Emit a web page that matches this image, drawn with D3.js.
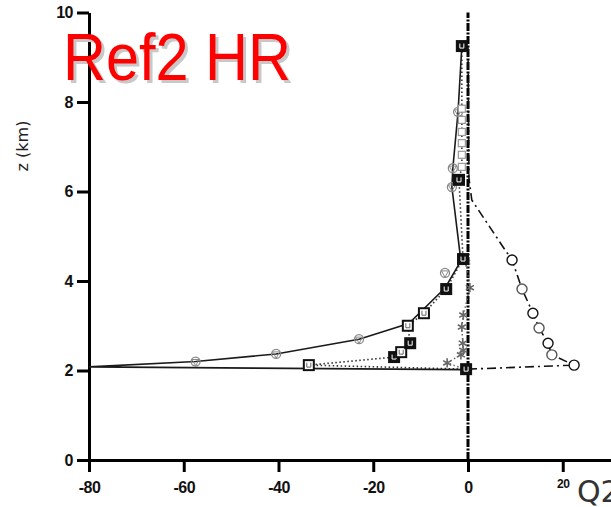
<!DOCTYPE html>
<html>
<head>
<meta charset="utf-8">
<script src="https://cdn.jsdelivr.net/npm/d3@7"></script>
<style>
  html, body { margin: 0; padding: 0; background: #fff; }
  svg { display: block; }
</style>
</head>
<body>
<svg id="chart"></svg>
<script>
// profiles: [value, z km]
const solidProfile = [
  [-1, 2.02], [-80, 2.08], [-57.5, 2.2], [-40.5, 2.37], [-23, 2.7], [-12.5, 3.05],
  [-4.8, 3.85], [-1.5, 4.45], [-3.4, 6.1], [-3.2, 6.52], [-2.1, 7.78], [-1.3, 9.25]
]
const solidMarks = [
  [-57.5, 2.2], [-40.5, 2.37], [-23, 2.7], [-4.85, 4.18], [-3.4, 6.1], [-3.2, 6.52], [-2.1, 7.78]
]
const squareProfile = [
  [-0.4, 2.03], [-33.6, 2.12], [-15.6, 2.3], [-14.1, 2.41], [-12.2, 2.61], [-12.7, 3.0],
  [-9.3, 3.28], [-4.6, 3.82], [-1.05, 4.49], [-1.9, 6.26], [-1.3, 6.55], [-1.3, 6.82],
  [-1.3, 7.08], [-1.3, 7.33], [-1.3, 7.6], [-1.3, 7.85], [-1.3, 9.25]
]
const circleProfile = [
  [0, 2.03], [22.4, 2.12], [17.7, 2.35], [16.9, 2.61], [15, 2.95], [13.7, 3.28],
  [11.4, 3.82], [9.3, 4.47], [7.4, 4.76], [0.8, 5.81], [0.2, 6.3], [0, 9.25]
]
const starProfile = [
  [-0.4, 2.02], [-4.4, 2.17], [-1.5, 2.35], [-1, 2.45], [-1.1, 2.61], [-1.3, 2.97],
  [-1, 3.24], [0.4, 3.85], [-0.4, 4.42]
]
const zeroLine = [[0, 0], [0, 10]]

const xTicks = [-80, -60, -40, -20, 0, 20]
const yTicks = [0, 2, 4, 6, 8, 10]

const W = 611, H = 507
const FILLED_SQUARES = [0, 2, 4, 7, 8, 9, 16]

const svg = d3.select('#chart').attr('width', W).attr('height', H)

const x = d3.scaleLinear().domain([-80, 0]).range([89, 468])
const y = d3.scaleLinear().domain([0, 10]).range([460, 12.5])
const xAxisScale = x.copy().domain([-80, 31]).range([89, x(31)])

// axes
const tickFont = '"Liberation Sans", Arial, sans-serif'
const gy = svg.append('g')
  .attr('transform', `translate(${x(-80)},0)`)
  .call(d3.axisLeft(y).tickValues(yTicks).tickFormat(d => String(d))
    .tickSize(12).tickSizeOuter(0).tickPadding(4))
const gx = svg.append('g')
  .attr('transform', `translate(0,${y(0)})`)
  .call(d3.axisBottom(xAxisScale).tickValues(xTicks).tickFormat(d => String(d))
    .tickSize(12).tickSizeOuter(0).tickPadding(10))

for (const g of [gx, gy]) {
  g.select('.domain').attr('stroke', '#000').attr('stroke-width', 3)
  g.selectAll('.tick line').attr('stroke', '#000').attr('stroke-width', 3)
  g.selectAll('.tick text')
    .attr('fill', '#111')
    .attr('font-family', tickFont)
    .attr('font-weight', 'bold')
    .attr('font-size', 16)
    .attr('letter-spacing', -0.5)
}
gx.selectAll('.tick text').filter(d => d === 20).attr('font-size', 12).attr('dy', '0.5em')

// zero reference line
const line = d3.line().x(d => x(d[0])).y(d => y(d[1]))
svg.append('path')
  .attr('d', line(zeroLine))
  .attr('fill', 'none')
  .attr('stroke', '#000')
  .attr('stroke-width', 3)
  .attr('stroke-dasharray', '8,1.5,2,1.5')

// profile lines
svg.append('path').attr('d', line(starProfile))
  .attr('fill', 'none').attr('stroke', '#666').attr('stroke-width', 1.5)
  .attr('stroke-dasharray', '1.5,2.5')
svg.append('path').attr('d', line(circleProfile))
  .attr('fill', 'none').attr('stroke', '#111').attr('stroke-width', 1.6)
  .attr('stroke-dasharray', '9,4,2,4')
svg.append('path').attr('d', line(squareProfile))
  .attr('fill', 'none').attr('stroke', '#333').attr('stroke-width', 1.6)
  .attr('stroke-dasharray', '1.5,2.5')
svg.append('path').attr('d', line(solidProfile))
  .attr('fill', 'none').attr('stroke', '#1a1a1a').attr('stroke-width', 1.6)

// markers
const tri = d3.symbol().type(d3.symbolTriangle).size(22)
svg.append('g').selectAll('g')
  .data(solidMarks)
  .join('g')
    .attr('transform', d => `translate(${x(d[0])},${y(d[1])})`)
    .call(g => g.append('circle').attr('r', 4.5)
      .attr('fill', 'none').attr('stroke', '#888').attr('stroke-width', 1.3))
    .call(g => g.append('path').attr('d', tri).attr('transform', 'rotate(180)')
      .attr('fill', 'none').attr('stroke', '#888').attr('stroke-width', 1))

svg.append('g').selectAll('circle')
  .data(circleProfile.slice(1, 8))
  .join('circle')
    .attr('cx', d => x(d[0]))
    .attr('cy', d => y(d[1]))
    .attr('r', 5)
    .attr('fill', '#fff')
    .attr('stroke', (d, i) => i % 2 ? '#555' : '#111')
    .attr('stroke-width', 1.4)

const star = d3.symbol().type(d3.symbolAsterisk).size(60)
svg.append('g').selectAll('path')
  .data(starProfile.slice(1))
  .join('path')
    .attr('transform', d => `translate(${x(d[0])},${y(d[1])})`)
    .attr('d', star)
    .attr('fill', 'none')
    .attr('stroke', '#666')
    .attr('stroke-width', 1.6)

svg.append('g').selectAll('g')
  .data(squareProfile)
  .join('g')
    .attr('transform', d => `translate(${x(d[0])},${y(d[1])})`)
    .each(function (d, i) {
      const g = d3.select(this)
      const small = d[0] === -1.3 && d[1] < 9
      const s = small ? 7 : 10
      const filled = FILLED_SQUARES.includes(i)
      g.append('rect')
        .attr('x', -s / 2).attr('y', -s / 2).attr('width', s).attr('height', s)
        .attr('fill', filled ? '#111' : '#fff')
        .attr('stroke', small ? '#999' : '#111')
        .attr('stroke-width', small ? 1.2 : 2)
      if (!small) {
        g.append('path')
          .attr('d', 'M-2,-2.5V2H2V-2.5')
          .attr('fill', 'none')
          .attr('stroke', filled ? '#fff' : '#666')
          .attr('stroke-width', 1)
      }
    })

// axis titles
svg.append('text')
  .attr('transform', 'translate(28,146) rotate(-90)')
  .attr('text-anchor', 'middle')
  .attr('font-family', '"DejaVu Sans", Verdana, sans-serif')
  .attr('font-size', 16)
  .attr('fill', '#222')
  .text('z (km)')

svg.append('text')
  .attr('x', 577).attr('y', 502)
  .attr('font-family', '"DejaVu Sans", Verdana, sans-serif')
  .attr('font-size', 30)
  .attr('fill', '#333')
  .text('Q2')

// overlay label
const label = svg.append('g').attr('font-family', '"Liberation Sans", Arial, sans-serif').attr('font-size', 67)
label.append('text').attr('x', 66).attr('y', 83)
  .attr('fill', '#c8c8c8')
  .attr('textLength', 228).attr('lengthAdjust', 'spacingAndGlyphs')
  .text('Ref2 HR')
label.append('text').attr('x', 63).attr('y', 80)
  .attr('fill', '#ff0000')
  .attr('textLength', 228).attr('lengthAdjust', 'spacingAndGlyphs')
  .text('Ref2 HR')
</script>
</body>
</html>
